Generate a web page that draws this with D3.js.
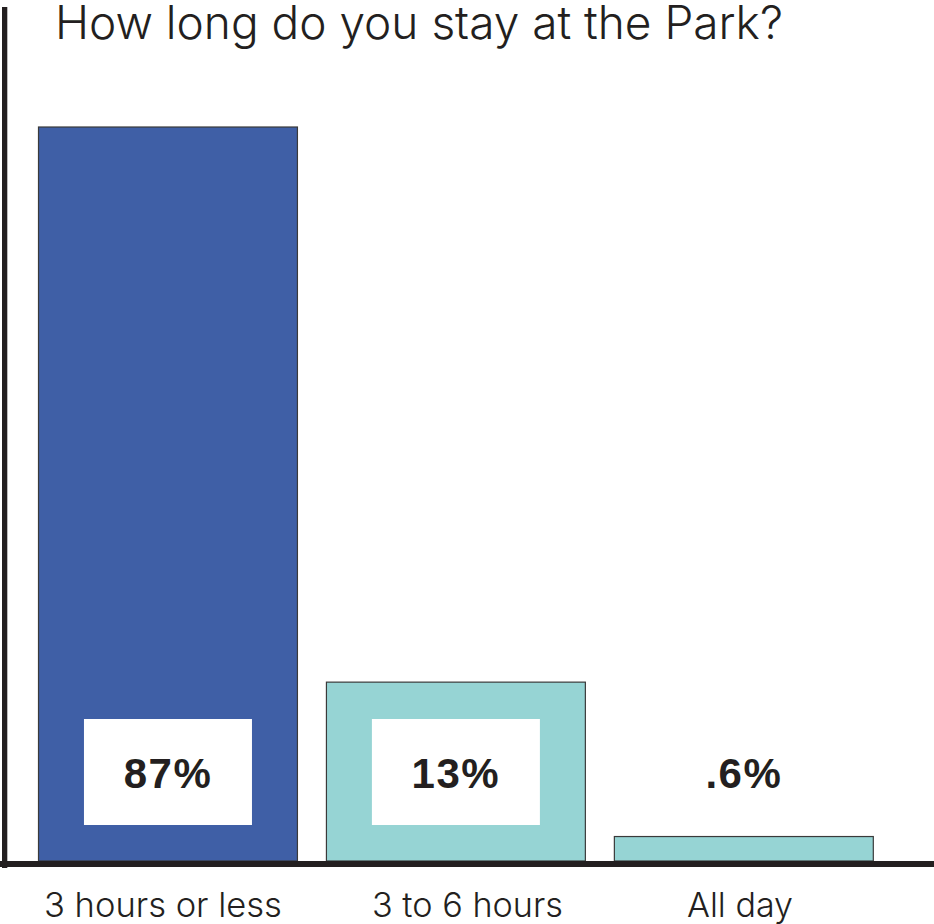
<!DOCTYPE html>
<html>
<head>
<meta charset="utf-8">
<script src="https://cdn.jsdelivr.net/npm/d3@7"></script>
<style>
  html, body { margin: 0; padding: 0; background: #fff; }
  svg { display: block; }
</style>
</head>
<body>
<svg id="chart" width="934" height="924"></svg>
<script>
const title = "How long do you stay at the Park?";
const categories = ["3 hours or less", "3 to 6 hours", "All day"];
const barValues = [87, 21.2, 2.9];          // drawn bar lengths
const valueLabels = ["87%", "13%", ".6%"];
const barColors = ["#3F5FA6", "#96D4D4", "#96D4D4"];
const boxed = [true, true, false];

const svg = d3.select("#chart");
const W = 934, H = 924;
const baseY = 861;

const x = d3.scaleBand()
  .domain(categories)
  .range([38.5, 873.3])
  .paddingInner(0.1007)
  .paddingOuter(0);

const y = d3.scaleLinear()
  .domain([0, 100])
  .range([baseY, baseY - 734 / 0.87]);

const data = categories.map((c, i) => ({
  cat: c, v: barValues[i], label: valueLabels[i], color: barColors[i], boxed: boxed[i]
}));

const lightFont = "Inter, Roboto, 'Liberation Sans', sans-serif";

function fitWidth(sel, target) {
  sel.each(function() {
    const el = d3.select(this);
    const fs = +el.attr("font-size");
    const w = this.getComputedTextLength();
    if (w > 0) el.attr("font-size", fs * target / w);
  });
}

// title
const t = svg.append("text")
  .attr("x", 55)
  .attr("y", 39)
  .attr("font-family", lightFont)
  .attr("font-weight", 300)
  .attr("font-size", 44)
  .attr("fill", "#231f20")
  .text(title);
fitWidth(t, 728);

// bars
svg.selectAll("rect.bar")
  .data(data)
  .join("rect")
  .attr("class", "bar")
  .attr("x", d => x(d.cat))
  .attr("y", d => y(d.v))
  .attr("width", x.bandwidth())
  .attr("height", d => y(0) - y(d.v))
  .attr("fill", d => d.color)
  .attr("stroke", "#3a3a3a")
  .attr("stroke-width", 1.2);

// white label boxes
const boxW = 168, boxH = 106, boxTop = 719;
svg.selectAll("rect.box")
  .data(data.filter(d => d.boxed))
  .join("rect")
  .attr("class", "box")
  .attr("x", d => x(d.cat) + x.bandwidth() / 2 - boxW / 2)
  .attr("y", boxTop)
  .attr("width", boxW)
  .attr("height", boxH)
  .attr("fill", "#ffffff");

// value labels
svg.selectAll("text.val")
  .data(data)
  .join("text")
  .attr("class", "val")
  .attr("x", d => x(d.cat) + x.bandwidth() / 2)
  .attr("y", 788)
  .attr("text-anchor", "middle")
  .attr("font-family", "'Liberation Sans', Arial, sans-serif")
  .attr("font-weight", 700)
  .attr("font-size", 42)
  .attr("letter-spacing", 1.5)
  .attr("fill", "#231f20")
  .text(d => d.label);

// category labels (left edges and widths as placed in the reference)
const catLeft = [44, 372, 687];
const catWidths = [238, 191, 106];
const catLabels = svg.selectAll("text.cat")
  .data(data)
  .join("text")
  .attr("class", "cat")
  .attr("x", (d, i) => catLeft[i])
  .attr("y", 917)
  .attr("font-family", lightFont)
  .attr("font-weight", 300)
  .attr("font-size", 32)
  .attr("fill", "#231f20")
  .text(d => d.cat);
catLabels.each(function(d, i) { fitWidth(d3.select(this), catWidths[i]); });

// axes lines
svg.append("rect")
  .attr("x", 0).attr("y", baseY)
  .attr("width", W).attr("height", 6)
  .attr("fill", "#231f20");
svg.append("rect")
  .attr("x", 2).attr("y", 7)
  .attr("width", 5.3).attr("height", 861)
  .attr("fill", "#231f20");
</script>
</body>
</html>
